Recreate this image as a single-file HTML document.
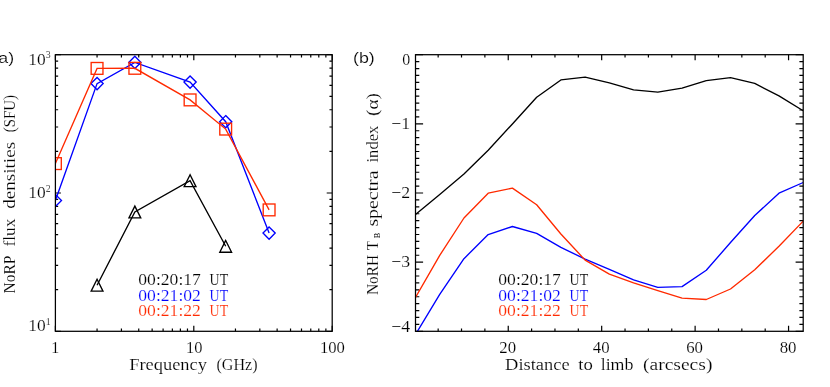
<!DOCTYPE html>
<html><head><meta charset="utf-8"><title>plot</title>
<style>html,body{margin:0;padding:0;background:#fff;}svg{display:block;}text{font-family:"Liberation Serif",serif;font-size:15.9px;stroke:#fff;stroke-width:0.15px;}.sans{font-family:"Liberation Sans",sans-serif;}</style></head><body>
<svg width="830" height="387" viewBox="0 0 830 387">
<rect x="0" y="0" width="830" height="387" fill="#ffffff"/>
<defs><clipPath id="ca"><rect x="55.4" y="54.7" width="276.8" height="276.6"/></clipPath><filter id="g" x="0" y="0" width="830" height="387" filterUnits="userSpaceOnUse" color-interpolation-filters="sRGB"><feColorMatrix type="matrix" values="1 0 0 0 0 0 1 0 0 0 0 0 1 0 0 0 0 0 1 0"/></filter><clipPath id="cb"><rect x="415.5" y="54.7" width="387.7" height="276.6"/></clipPath></defs>
<g filter="url(#g)">
<path d="M55.40 331.30L55.40 325.80M55.40 54.70L55.40 60.20M97.06 331.30L97.06 328.55M97.06 54.70L97.06 57.45M121.43 331.30L121.43 328.55M121.43 54.70L121.43 57.45M138.73 331.30L138.73 328.55M138.73 54.70L138.73 57.45M152.14 331.30L152.14 328.55M152.14 54.70L152.14 57.45M163.10 331.30L163.10 328.55M163.10 54.70L163.10 57.45M172.36 331.30L172.36 328.55M172.36 54.70L172.36 57.45M180.39 331.30L180.39 328.55M180.39 54.70L180.39 57.45M187.47 331.30L187.47 328.55M187.47 54.70L187.47 57.45M193.80 331.30L193.80 325.80M193.80 54.70L193.80 60.20M235.46 331.30L235.46 328.55M235.46 54.70L235.46 57.45M259.83 331.30L259.83 328.55M259.83 54.70L259.83 57.45M277.13 331.30L277.13 328.55M277.13 54.70L277.13 57.45M290.54 331.30L290.54 328.55M290.54 54.70L290.54 57.45M301.50 331.30L301.50 328.55M301.50 54.70L301.50 57.45M310.76 331.30L310.76 328.55M310.76 54.70L310.76 57.45M318.79 331.30L318.79 328.55M318.79 54.70L318.79 57.45M325.87 331.30L325.87 328.55M325.87 54.70L325.87 57.45M332.20 331.30L332.20 325.80M332.20 54.70L332.20 60.20M55.40 331.30L60.90 331.30M332.20 331.30L326.70 331.30M55.40 289.67L58.15 289.67M332.20 289.67L329.45 289.67M55.40 265.31L58.15 265.31M332.20 265.31L329.45 265.31M55.40 248.04L58.15 248.04M332.20 248.04L329.45 248.04M55.40 234.63L58.15 234.63M332.20 234.63L329.45 234.63M55.40 223.68L58.15 223.68M332.20 223.68L329.45 223.68M55.40 214.42L58.15 214.42M332.20 214.42L329.45 214.42M55.40 206.40L58.15 206.40M332.20 206.40L329.45 206.40M55.40 199.33L58.15 199.33M332.20 199.33L329.45 199.33M55.40 193.00L60.90 193.00M332.20 193.00L326.70 193.00M55.40 151.37L58.15 151.37M332.20 151.37L329.45 151.37M55.40 127.01L58.15 127.01M332.20 127.01L329.45 127.01M55.40 109.74L58.15 109.74M332.20 109.74L329.45 109.74M55.40 96.33L58.15 96.33M332.20 96.33L329.45 96.33M55.40 85.38L58.15 85.38M332.20 85.38L329.45 85.38M55.40 76.12L58.15 76.12M332.20 76.12L329.45 76.12M55.40 68.10L58.15 68.10M332.20 68.10L329.45 68.10M55.40 61.03L58.15 61.03M332.20 61.03L329.45 61.03M55.40 54.70L60.90 54.70M332.20 54.70L326.70 54.70" stroke="#000" stroke-width="1.2" fill="none"/>
<g clip-path="url(#ca)" fill="none" stroke-width="1.35" stroke-linejoin="miter">
<polyline points="97.06,285.20 134.85,212.00 190.08,180.70 225.69,246.30" stroke="#000000"/>
<path d="M97.06 279.30L91.16 291.10L102.96 291.10Z" stroke="#000000"/>
<path d="M134.85 206.10L128.95 217.90L140.75 217.90Z" stroke="#000000"/>
<path d="M190.08 174.80L184.18 186.60L195.98 186.60Z" stroke="#000000"/>
<path d="M225.69 240.40L219.79 252.20L231.59 252.20Z" stroke="#000000"/>
<polyline points="55.40,200.50 97.06,83.60 134.85,62.40 190.08,82.10 225.69,121.70 269.10,233.10" stroke="#0000ff"/>
<path d="M55.40 194.40L61.50 200.50L55.40 206.60L49.30 200.50Z" stroke="#0000ff"/>
<path d="M97.06 77.50L103.16 83.60L97.06 89.70L90.96 83.60Z" stroke="#0000ff"/>
<path d="M134.85 56.30L140.95 62.40L134.85 68.50L128.75 62.40Z" stroke="#0000ff"/>
<path d="M190.08 76.00L196.18 82.10L190.08 88.20L183.98 82.10Z" stroke="#0000ff"/>
<path d="M225.69 115.60L231.79 121.70L225.69 127.80L219.59 121.70Z" stroke="#0000ff"/>
<path d="M269.10 227.00L275.20 233.10L269.10 239.20L263.00 233.10Z" stroke="#0000ff"/>
<polyline points="55.40,163.60 97.06,68.40 134.85,68.30 190.08,99.90 225.69,129.10 269.10,209.90" stroke="#ff2a00"/>
<rect x="49.50" y="157.70" width="11.80" height="11.80" stroke="#ff2a00"/>
<rect x="91.16" y="62.50" width="11.80" height="11.80" stroke="#ff2a00"/>
<rect x="128.95" y="62.40" width="11.80" height="11.80" stroke="#ff2a00"/>
<rect x="184.18" y="94.00" width="11.80" height="11.80" stroke="#ff2a00"/>
<rect x="219.79" y="123.20" width="11.80" height="11.80" stroke="#ff2a00"/>
<rect x="263.20" y="204.00" width="11.80" height="11.80" stroke="#ff2a00"/>
</g>
<rect x="55.40" y="54.70" width="276.80" height="276.60" fill="none" stroke="#000" stroke-width="1.25"/>
<text x="28.20" y="64.50" textLength="17.40" lengthAdjust="spacingAndGlyphs">10</text>
<text x="45.80" y="57.80" style="font-size:9.8px">3</text>
<text x="28.20" y="198.30" textLength="17.40" lengthAdjust="spacingAndGlyphs">10</text>
<text x="45.80" y="191.60" style="font-size:9.8px">2</text>
<text x="28.20" y="331.40" textLength="17.40" lengthAdjust="spacingAndGlyphs">10</text>
<text x="45.80" y="324.70" style="font-size:9.8px">1</text>
<text x="55.30" y="352.60" text-anchor="middle">1</text>
<text x="194.30" y="352.60" text-anchor="middle" textLength="16.40" lengthAdjust="spacingAndGlyphs">10</text>
<text x="332.40" y="352.60" text-anchor="middle" textLength="25.00" lengthAdjust="spacingAndGlyphs">100</text>
<text x="129.20" y="369.80" textLength="77.80" lengthAdjust="spacingAndGlyphs">Frequency</text>
<text x="216.50" y="369.80" textLength="41.10" lengthAdjust="spacingAndGlyphs">(GHz)</text>
<g transform="translate(15.1,293.4) rotate(-90)">
<text x="0.00" y="0.00" textLength="37.80" lengthAdjust="spacingAndGlyphs">NoRP</text>
<text x="46.90" y="0.00" textLength="27.90" lengthAdjust="spacingAndGlyphs">flux</text>
<text x="84.70" y="0.00" textLength="66.80" lengthAdjust="spacingAndGlyphs">densities</text>
<text x="161.10" y="0.00" textLength="37.20" lengthAdjust="spacingAndGlyphs">(SFU)</text>
</g>
<text x="138.30" y="285.40" textLength="62.60" lengthAdjust="spacingAndGlyphs">00:20:17</text>
<text x="209.60" y="285.40" textLength="18.60" lengthAdjust="spacingAndGlyphs">UT</text>
<text x="138.30" y="300.90" textLength="62.60" lengthAdjust="spacingAndGlyphs" fill="#0000ff">00:21:02</text>
<text x="209.60" y="300.90" textLength="18.60" lengthAdjust="spacingAndGlyphs" fill="#0000ff">UT</text>
<text x="138.30" y="316.40" textLength="62.60" lengthAdjust="spacingAndGlyphs" fill="#ff2a00">00:21:22</text>
<text x="209.60" y="316.40" textLength="18.60" lengthAdjust="spacingAndGlyphs" fill="#ff2a00">UT</text>
<text x="-7.60" y="62.90" textLength="21.80" lengthAdjust="spacingAndGlyphs" class="sans" style="font-size:15.2px">(a)</text>
<path d="M438.16 331.30L438.16 328.50M438.16 54.70L438.16 57.50M461.52 331.30L461.52 328.50M461.52 54.70L461.52 57.50M484.88 331.30L484.88 328.50M484.88 54.70L484.88 57.50M508.24 331.30L508.24 325.80M508.24 54.70L508.24 60.20M531.60 331.30L531.60 328.50M531.60 54.70L531.60 57.50M554.96 331.30L554.96 328.50M554.96 54.70L554.96 57.50M578.32 331.30L578.32 328.50M578.32 54.70L578.32 57.50M601.68 331.30L601.68 325.80M601.68 54.70L601.68 60.20M625.04 331.30L625.04 328.50M625.04 54.70L625.04 57.50M648.40 331.30L648.40 328.50M648.40 54.70L648.40 57.50M671.76 331.30L671.76 328.50M671.76 54.70L671.76 57.50M695.12 331.30L695.12 325.80M695.12 54.70L695.12 60.20M718.48 331.30L718.48 328.50M718.48 54.70L718.48 57.50M741.84 331.30L741.84 328.50M741.84 54.70L741.84 57.50M765.20 331.30L765.20 328.50M765.20 54.70L765.20 57.50M788.56 331.30L788.56 325.80M788.56 54.70L788.56 60.20M415.50 54.70L423.10 54.70M803.20 54.70L795.60 54.70M415.50 61.62L419.30 61.62M803.20 61.62L799.40 61.62M415.50 68.53L419.30 68.53M803.20 68.53L799.40 68.53M415.50 75.45L419.30 75.45M803.20 75.45L799.40 75.45M415.50 82.36L419.30 82.36M803.20 82.36L799.40 82.36M415.50 89.28L419.30 89.28M803.20 89.28L799.40 89.28M415.50 96.19L419.30 96.19M803.20 96.19L799.40 96.19M415.50 103.11L419.30 103.11M803.20 103.11L799.40 103.11M415.50 110.02L419.30 110.02M803.20 110.02L799.40 110.02M415.50 116.94L419.30 116.94M803.20 116.94L799.40 116.94M415.50 123.85L423.10 123.85M803.20 123.85L795.60 123.85M415.50 130.77L419.30 130.77M803.20 130.77L799.40 130.77M415.50 137.68L419.30 137.68M803.20 137.68L799.40 137.68M415.50 144.60L419.30 144.60M803.20 144.60L799.40 144.60M415.50 151.51L419.30 151.51M803.20 151.51L799.40 151.51M415.50 158.43L419.30 158.43M803.20 158.43L799.40 158.43M415.50 165.34L419.30 165.34M803.20 165.34L799.40 165.34M415.50 172.26L419.30 172.26M803.20 172.26L799.40 172.26M415.50 179.17L419.30 179.17M803.20 179.17L799.40 179.17M415.50 186.09L419.30 186.09M803.20 186.09L799.40 186.09M415.50 193.00L423.10 193.00M803.20 193.00L795.60 193.00M415.50 199.92L419.30 199.92M803.20 199.92L799.40 199.92M415.50 206.83L419.30 206.83M803.20 206.83L799.40 206.83M415.50 213.75L419.30 213.75M803.20 213.75L799.40 213.75M415.50 220.66L419.30 220.66M803.20 220.66L799.40 220.66M415.50 227.58L419.30 227.58M803.20 227.58L799.40 227.58M415.50 234.49L419.30 234.49M803.20 234.49L799.40 234.49M415.50 241.41L419.30 241.41M803.20 241.41L799.40 241.41M415.50 248.32L419.30 248.32M803.20 248.32L799.40 248.32M415.50 255.24L419.30 255.24M803.20 255.24L799.40 255.24M415.50 262.15L423.10 262.15M803.20 262.15L795.60 262.15M415.50 269.06L419.30 269.06M803.20 269.06L799.40 269.06M415.50 275.98L419.30 275.98M803.20 275.98L799.40 275.98M415.50 282.90L419.30 282.90M803.20 282.90L799.40 282.90M415.50 289.81L419.30 289.81M803.20 289.81L799.40 289.81M415.50 296.73L419.30 296.73M803.20 296.73L799.40 296.73M415.50 303.64L419.30 303.64M803.20 303.64L799.40 303.64M415.50 310.56L419.30 310.56M803.20 310.56L799.40 310.56M415.50 317.47L419.30 317.47M803.20 317.47L799.40 317.47M415.50 324.39L419.30 324.39M803.20 324.39L799.40 324.39M415.50 331.30L423.10 331.30M803.20 331.30L795.60 331.30" stroke="#000" stroke-width="1.2" fill="none"/>
<g clip-path="url(#cb)" fill="none" stroke-width="1.35" stroke-linejoin="round">
<polyline points="415.50,214.40 439.73,194.60 463.96,174.00 488.19,150.20 512.42,124.00 536.66,97.20 560.89,79.95 585.12,77.05 609.35,82.90 633.58,89.80 657.81,92.20 682.04,88.10 706.28,80.70 730.51,77.60 754.74,83.40 778.97,95.90 803.20,110.80" stroke="#000000"/>
<polyline points="415.50,334.50 439.73,294.30 463.96,258.70 488.19,234.60 512.42,226.50 536.66,233.30 560.89,247.35 585.12,259.10 609.35,269.40 633.58,279.80 657.81,287.40 682.04,286.60 706.28,270.30 730.51,242.50 754.74,215.50 778.97,193.20 803.20,182.50" stroke="#0000ff"/>
<polyline points="415.50,297.40 439.73,255.30 463.96,218.00 488.19,193.20 512.42,188.10 536.66,204.80 560.89,234.00 585.12,260.10 609.35,274.20 633.58,282.90 657.81,290.70 682.04,298.20 706.28,299.50 730.51,289.00 754.74,269.70 778.97,246.30 803.20,221.10" stroke="#ff2a00"/>
</g>
<rect x="415.50" y="54.70" width="387.70" height="276.60" fill="none" stroke="#000" stroke-width="1.25"/>
<text x="410.20" y="64.80" text-anchor="end">0</text>
<text x="410.20" y="129.15" text-anchor="end" textLength="19.00" lengthAdjust="spacingAndGlyphs">−1</text>
<text x="410.20" y="198.30" text-anchor="end" textLength="19.00" lengthAdjust="spacingAndGlyphs">−2</text>
<text x="410.20" y="267.45" text-anchor="end" textLength="19.00" lengthAdjust="spacingAndGlyphs">−3</text>
<text x="410.20" y="332.00" text-anchor="end" textLength="19.00" lengthAdjust="spacingAndGlyphs">−4</text>
<text x="507.74" y="352.60" text-anchor="middle" textLength="16.80" lengthAdjust="spacingAndGlyphs">20</text>
<text x="601.18" y="352.60" text-anchor="middle" textLength="16.80" lengthAdjust="spacingAndGlyphs">40</text>
<text x="694.62" y="352.60" text-anchor="middle" textLength="16.80" lengthAdjust="spacingAndGlyphs">60</text>
<text x="788.06" y="352.60" text-anchor="middle" textLength="16.80" lengthAdjust="spacingAndGlyphs">80</text>
<text x="505.10" y="369.80" textLength="64.50" lengthAdjust="spacingAndGlyphs">Distance</text>
<text x="578.20" y="369.80" textLength="14.60" lengthAdjust="spacingAndGlyphs">to</text>
<text x="600.70" y="369.80" textLength="32.80" lengthAdjust="spacingAndGlyphs">limb</text>
<text x="643.00" y="369.80" textLength="69.40" lengthAdjust="spacingAndGlyphs">(arcsecs)</text>
<g transform="translate(377.5,295.0) rotate(-90)">
<text x="0.00" y="0.00" textLength="40.20" lengthAdjust="spacingAndGlyphs">NoRH</text>
<text x="45.10" y="0.00" textLength="9.10" lengthAdjust="spacingAndGlyphs">T</text>
<text x="68.40" y="0.00" textLength="56.10" lengthAdjust="spacingAndGlyphs">spectra</text>
<text x="132.50" y="0.00" textLength="36.90" lengthAdjust="spacingAndGlyphs">index</text>
<text x="179.10" y="0.00" textLength="22.90" lengthAdjust="spacingAndGlyphs">(α)</text>
<text x="56.80" y="2.30" style="stroke:none;font-size:8.2px">B</text>
</g>
<text x="498.30" y="285.40" textLength="62.60" lengthAdjust="spacingAndGlyphs">00:20:17</text>
<text x="569.60" y="285.40" textLength="18.60" lengthAdjust="spacingAndGlyphs">UT</text>
<text x="498.30" y="300.90" textLength="62.60" lengthAdjust="spacingAndGlyphs" fill="#0000ff">00:21:02</text>
<text x="569.60" y="300.90" textLength="18.60" lengthAdjust="spacingAndGlyphs" fill="#0000ff">UT</text>
<text x="498.30" y="316.40" textLength="62.60" lengthAdjust="spacingAndGlyphs" fill="#ff2a00">00:21:22</text>
<text x="569.60" y="316.40" textLength="18.60" lengthAdjust="spacingAndGlyphs" fill="#ff2a00">UT</text>
<text x="353.00" y="62.90" textLength="21.80" lengthAdjust="spacingAndGlyphs" class="sans" style="font-size:15.2px">(b)</text>
</g>
</svg></body></html>
